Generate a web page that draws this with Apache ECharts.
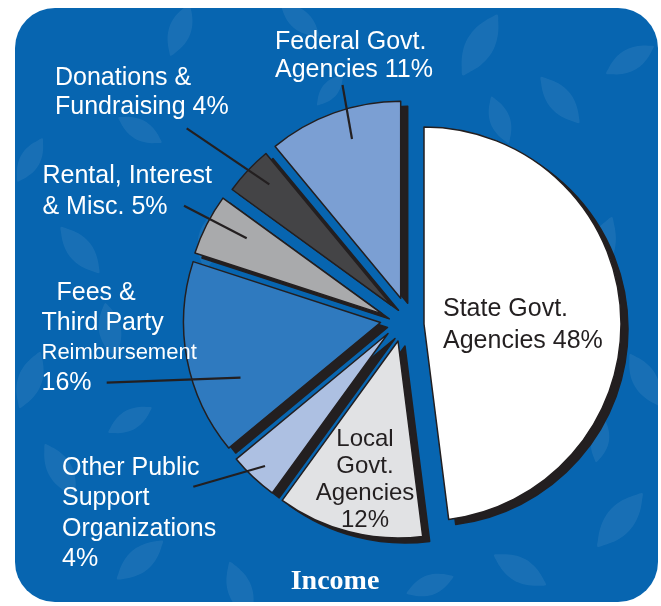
<!DOCTYPE html>
<html><head><meta charset="utf-8">
<script src="https://cdn.jsdelivr.net/npm/echarts@6/dist/echarts.min.js"></script>
<style>html,body{margin:0;padding:0;background:#fff}#c{width:661px;height:606px}</style>
</head><body><div id="c"></div>
<script>
// ---- data ----
const categories = [
  'State Govt. Agencies',
  'Local Govt. Agencies',
  'Other Public Support Organizations',
  'Fees & Third Party Reimbursement',
  'Rental, Interest & Misc.',
  'Donations & Fundraising',
  'Federal Govt. Agencies'
];
const shares = [48, 12, 4, 16, 5, 4, 11];
const labelParts = [
  ['State Govt.', 'Agencies'],
  ['Local', 'Govt.', 'Agencies'],
  ['Other Public', 'Support', 'Organizations'],
  ['Fees &', 'Third Party', 'Reimbursement'],
  ['Rental, Interest', '& Misc.'],
  ['Donations &', 'Fundraising'],
  ['Federal Govt.', 'Agencies']
];
const pctOwnLine = [false, true, true, true, false, false, false];
const titleText = 'Income';

// ---- layout / style ----
const DARK = '#231f20';
const sliceColors = ['#ffffff', '#e1e2e4', '#adc0e2', '#2f7abf', '#a9aaac', '#444446', '#7b9fd3'];
const sliceCenters = [[424, 324], [398, 341], [388, 333.5], [380.5, 322.5], [382.3, 313.9], [391.5, 305.3], [400.7, 298.2]];
const R = 197;
const SHADOW_DX = 7, SHADOW_DY = 5;
const labelPos = [
  { x: 443, y: 309, lh: 32, align: 'left', color: DARK },
  { x: 365, y: 439.5, lh: 26.8, align: 'center', color: DARK, size: 24 },
  { x: 62, y: 468.5, lh: 30.1, align: 'left', color: '#fff' },
  { x: 41.5, y: 293, lh: 30, align: 'left', color: '#fff', indents: [15, 0, 0, 0], sizes: [25, 25, 22, 25] },
  { x: 42.5, y: 176, lh: 31, align: 'left', color: '#fff' },
  { x: 55, y: 78, lh: 29.3, align: 'left', color: '#fff' },
  { x: 275, y: 42.5, lh: 28, align: 'left', color: '#fff' }
];
const leaderLines = [null, null,
  [[193.3, 486.7], [265, 466]],
  [[106.7, 382.7], [240.5, 377.7]],
  [[184, 205.7], [246.7, 238.3]],
  [[186.7, 128.3], [269.3, 184.3]],
  [[342.5, 85], [352, 139]]
];
// decorative leaves: [cx, cy, rotationDeg, length]
const leaves = [
  [480, 45, 30, 70], [560, 100, -40, 60], [630, 60, 60, 55], [600, 250, 20, 70], [645, 380, -30, 60],
  [620, 520, 40, 70], [520, 570, -60, 60], [430, 585, 70, 50], [240, 590, -20, 60], [140, 560, 50, 60],
  [60, 470, -30, 60], [30, 380, 20, 60], [80, 250, -40, 60], [30, 160, 30, 50], [140, 130, -60, 50],
  [180, 30, 20, 55], [300, 20, -50, 50], [210, 240, 10, 60], [230, 430, -20, 50], [500, 120, -20, 50],
  [130, 420, 60, 50], [600, 440, 10, 45], [110, 330, -10, 55], [330, 90, 40, 40]
];

const FONT = '"Liberation Sans", Arial, Helvetica, sans-serif';

function leafPoints(cx, cy, rot, len) {
  const h = len / 2, w = len * 0.2, a = rot * Math.PI / 180;
  const pts = [];
  const N = 12;
  for (let s = 0; s <= N; s++) {
    const t = -1 + 2 * s / N;
    pts.push([w * (1 - t * t), h * t]);
  }
  for (let s = N - 1; s > 0; s--) {
    const t = -1 + 2 * s / N;
    pts.push([-w * (1 - t * t), h * t]);
  }
  return pts.map(([px, py]) => [cx + px * Math.cos(a) - py * Math.sin(a), cy + px * Math.sin(a) + py * Math.cos(a)]);
}

const graphics = [];
graphics.push({ type: 'rect', z: -100, silent: true,
  shape: { x: 15, y: 8, width: 643, height: 594, r: 40 },
  style: { fill: '#0765b0' } });
leaves.forEach(([cx, cy, rot, len]) => {
  graphics.push({ type: 'polygon', z: -99, silent: true,
    shape: { points: leafPoints(cx, cy, rot, len), smooth: 0.3 },
    style: { fill: 'rgba(255,255,255,0.07)' } });
});

labelParts.forEach((parts, i) => {
  const lines = parts.slice();
  const pct = shares[i] + '%';
  if (pctOwnLine[i]) lines.push(pct); else lines[lines.length - 1] += ' ' + pct;
  const p = labelPos[i];
  lines.forEach((t, k) => {
    const size = (p.sizes ? p.sizes[k] : (p.size || 25));
    graphics.push({ type: 'text', z: 100, silent: true,
      x: p.x + (p.indents ? p.indents[k] : 0), y: p.y + k * p.lh,
      style: { text: t, fill: p.color, font: `${size}px ${FONT}`,
        align: p.align, verticalAlign: 'middle', textAlign: p.align, textVerticalAlign: 'middle' } });
  });
  if (leaderLines[i]) {
    const [a, b] = leaderLines[i];
    graphics.push({ type: 'line', z: 90, silent: true,
      shape: { x1: a[0], y1: a[1], x2: b[0], y2: b[1] },
      style: { stroke: DARK, lineWidth: 2.2 } });
  }
});

graphics.push({ type: 'text', z: 100, silent: true, x: 335, y: 582,
  style: { text: titleText, fill: '#fff', font: `bold 28px "Liberation Serif", "Times New Roman", serif`,
    align: 'center', verticalAlign: 'middle', textAlign: 'center', textVerticalAlign: 'middle' } });

const hidden = { color: 'rgba(0,0,0,0)', borderWidth: 0 };
function sliceSeries(i, isShadow) {
  const c = sliceCenters[i];
  return {
    type: 'pie', silent: true, animation: false,
    center: isShadow ? [c[0] + SHADOW_DX, c[1] + SHADOW_DY] : c,
    radius: [0, R], startAngle: 90, clockwise: true,
    avoidLabelOverlap: false, label: { show: false }, labelLine: { show: false },
    z: isShadow ? 1 : 3,
    data: shares.map((w, j) => ({
      value: w, name: categories[j],
      itemStyle: j !== i ? hidden : (isShadow
        ? { color: DARK, borderColor: DARK, borderWidth: 1.5 }
        : { color: sliceColors[j], borderColor: DARK, borderWidth: 1.5 })
    }))
  };
}
const series = [];
shares.forEach((v, i) => series.push(sliceSeries(i, true)));
shares.forEach((v, i) => series.push(sliceSeries(i, false)));

const chart = echarts.init(document.getElementById('c'), null, { renderer: 'canvas' });
chart.setOption({ animation: false, backgroundColor: '#ffffff', graphic: { elements: graphics }, series });
</script></body></html>
